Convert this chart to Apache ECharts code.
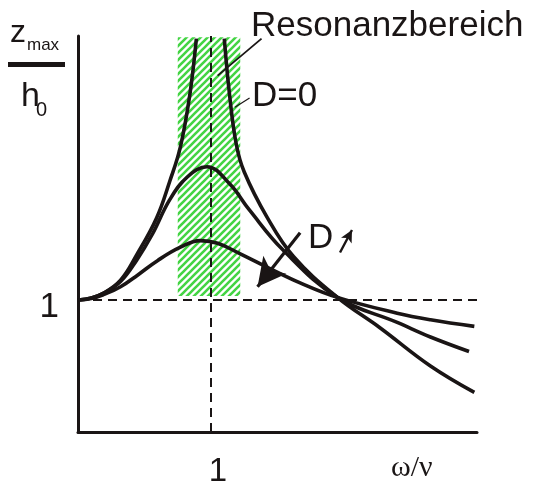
<!DOCTYPE html>
<html>
<head>
<meta charset="utf-8">
<script src="https://cdn.jsdelivr.net/npm/echarts@6/dist/echarts.min.js"></script>
<style>
html,body{margin:0;padding:0;background:#fff;}
#chart{width:540px;height:481px;}
</style>
</head>
<body>
<div id="chart"></div>
<script>
// ---- data ----
var xTickLabels = ['1'];
var yTickLabels = ['1'];
// high damping curve
var curveHighD = [[0,1],[0.1,1.012],[0.19,1.04],[0.32,1.10],[0.45,1.19],[0.6,1.30],[0.77,1.40],[0.92,1.45],[1.05,1.43],[1.22,1.35],[1.42,1.25],[1.67,1.13],[1.95,1.02],[2.40,0.90],[2.65,0.85],[2.98,0.80]];
// medium damping curve
var curveMidD = [[0,1],[0.1,1.015],[0.19,1.05],[0.32,1.14],[0.44,1.30],[0.56,1.50],[0.69,1.76],[0.82,1.93],[0.97,2.01],[1.14,1.88],[1.29,1.68],[1.54,1.38],[1.95,1.02],[2.40,0.83],[2.65,0.72],[2.94,0.61]];
// D = 0, left and right branch
var curveD0Left = [[0,1],[0.1,1.015],[0.19,1.05],[0.32,1.15],[0.44,1.34],[0.59,1.62],[0.69,1.90],[0.77,2.16],[0.84,2.55],[0.89,2.98]];
var curveD0Right = [[1.10,2.98],[1.14,2.55],[1.19,2.18],[1.25,1.97],[1.42,1.63],[1.62,1.33],[1.95,1.02],[2.27,0.79],[2.65,0.50],[2.98,0.30]];
// resonance region
var resonanceX = [0.75, 1.22];
var resonanceY = [1.03, 2.99];
// reference lines
var refY = 1, refX = 1;
// annotation lines [from, to]
var leaderResonanz = [[1.38,2.98],[1.05,2.70]];
var leaderD0 = [[1.29,2.53],[1.18,2.46]];
var arrowD = [[1.67,1.51],[1.35,1.10]];
var arrowSmall = [[1.97,1.36],[2.06,1.53]];

// ---- hatch pattern ----
var tile = document.createElement('canvas');
var s = 7;
tile.width = s; tile.height = s;
var tc = tile.getContext('2d');
tc.fillStyle = '#ffffff'; tc.fillRect(0,0,s,s);
tc.strokeStyle = '#44d444'; tc.lineWidth = 2.6;
tc.beginPath();
tc.moveTo(-1, s+1); tc.lineTo(s+1, -1);
tc.moveTo(-1, 1); tc.lineTo(1, -1);
tc.moveTo(s-1, s+1); tc.lineTo(s+1, s-1);
tc.stroke();

var ink = '#1a1515';
var chart = echarts.init(document.getElementById('chart'), null, {renderer:'canvas'});
var curveStyle = {color: ink, width: 3.6};
function curve(data){
  return {type:'line', data:data, smooth:0.4, showSymbol:false, symbol:'none', lineStyle:curveStyle, z:5, silent:true};
}
function seg(p, endSym, endSize, width){
  return [{coord:p[0], symbol:'none'}, {coord:p[1], symbol:endSym||'none', symbolSize:endSize||0, lineStyle:{color:ink, width:width, type:'solid'}}];
}
var sans = '"Liberation Sans", Arial, sans-serif';

chart.setOption({
  animation:false,
  grid:{left:78, top:36, width:399, height:396, containLabel:false, outerBoundsMode:'none'},
  xAxis:{type:'value', min:0, max:3, interval:1,
    axisLine:{show:true, onZero:false, lineStyle:{color:ink, width:3}},
    axisTick:{show:false}, splitLine:{show:false},
    axisLabel:{formatter:function(v){return v===1?xTickLabels[0]:'';}, fontSize:33, color:ink, fontFamily:sans, margin:23, padding:[0,0,0,14]}
  },
  yAxis:{type:'value', min:0, max:3, interval:1,
    axisLine:{show:true, onZero:false, lineStyle:{color:ink, width:3}},
    axisTick:{show:false}, splitLine:{show:false},
    axisLabel:{formatter:function(v){return v===1?yTickLabels[0]:'';}, fontSize:35, color:ink, fontFamily:sans, margin:19, verticalAlign:'top', lineHeight:15}
  },
  series:[
    {type:'line', data:[], silent:true,
      markArea:{silent:true, itemStyle:{color:{image:tile, repeat:'repeat'}, opacity:1},
        data:[[{coord:[resonanceX[0], resonanceY[0]]},{coord:[resonanceX[1], resonanceY[1]]}]]},
      markLine:{silent:true, symbol:['none','none'], label:{show:false},
        lineStyle:{color:ink, width:2, type:[9,6]},
        data:[
          [{coord:[0,refY]},{coord:[3,refY]}],
          [{coord:[refX,0]},{coord:[refX,3]}]
        ]}
    },
    curve(curveHighD),
    curve(curveMidD),
    curve(curveD0Left),
    curve(curveD0Right),
    {type:'line', data:[], silent:true, z:6,
      markLine:{silent:true, symbol:['none','none'], label:{show:false}, animation:false,
        data:[
          seg(leaderResonanz, 'none', 0, 1.8),
          seg(leaderD0, 'none', 0, 1.2),
          seg(arrowD, 'arrow', [22,28], 3.2),
          seg(arrowSmall, 'arrow', [9,12], 2.4)
        ]}
    }
  ],
  graphic:[
    {type:'text', x:251, y:26, style:{text:'Resonanzbereich', font:'35px ' + sans, fill:ink, verticalAlign:'middle'}, z:10},
    {type:'text', x:252, y:96, style:{text:'D=0', font:'35px ' + sans, fill:ink, verticalAlign:'middle'}, z:10},
    {type:'text', x:308, y:238, style:{text:'D', font:'35px ' + sans, fill:ink, verticalAlign:'middle'}, z:10},
    {type:'text', x:391, y:468, style:{text:'ω/ν', font:'30px "Liberation Serif", "Times New Roman", serif', fill:ink, verticalAlign:'middle'}, z:10},
    {type:'text', x:10, y:33, style:{text:'z', font:'32px ' + sans, fill:ink, verticalAlign:'middle'}, z:10},
    {type:'text', x:27, y:45, style:{text:'max', font:'17px ' + sans, fill:ink, verticalAlign:'middle'}, z:10},
    {type:'rect', shape:{x:8, y:62, width:57, height:5}, style:{fill:ink}, z:10},
    {type:'text', x:21, y:97, style:{text:'h', font:'34px ' + sans, fill:ink, verticalAlign:'middle'}, z:10},
    {type:'text', x:36, y:110, style:{text:'0', font:'20px ' + sans, fill:ink, verticalAlign:'middle'}, z:10}
  ]
});
</script>
</body>
</html>
